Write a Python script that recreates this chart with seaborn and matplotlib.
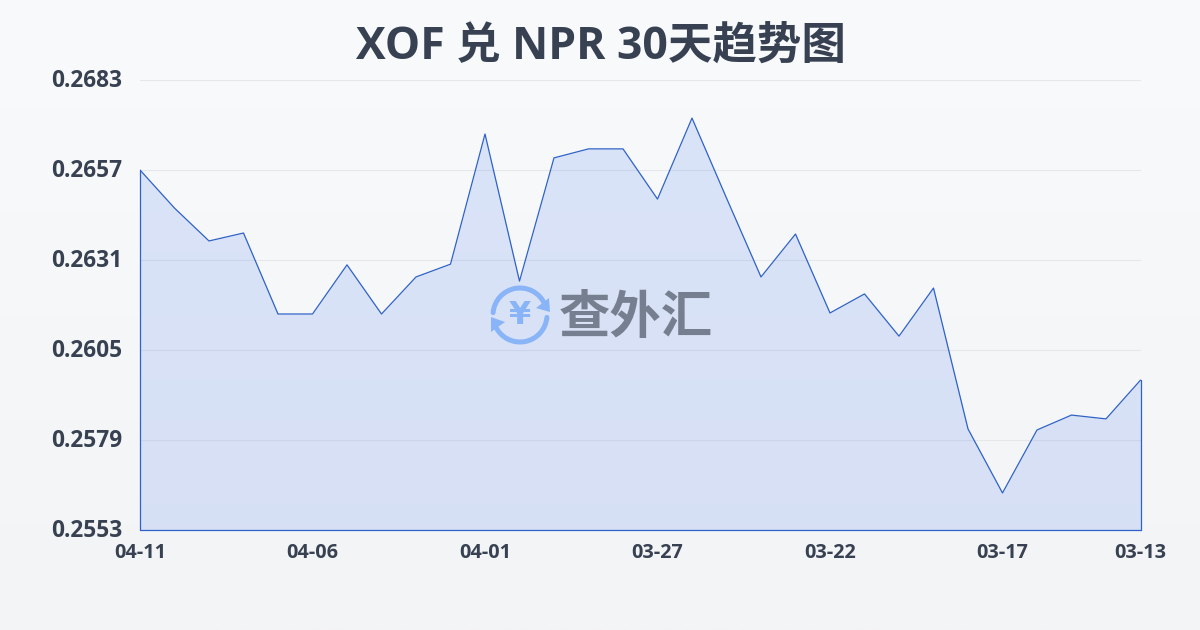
import numpy as np
import matplotlib
matplotlib.use('Agg')
import matplotlib.pyplot as plt
from matplotlib.patches import Arc, Polygon
from matplotlib.transforms import ScaledTranslation
import seaborn as sns

dates = ['04-11', '04-10', '04-09', '04-08', '04-07', '04-06', '04-05', '04-04', '04-03', '04-02',
         '04-01', '03-31', '03-30', '03-29', '03-28', '03-27', '03-26', '03-25', '03-24', '03-23',
         '03-22', '03-21', '03-20', '03-19', '03-18', '03-17', '03-16', '03-15', '03-14', '03-13']
rates = [0.26570, 0.26460, 0.26365, 0.26388, 0.26154, 0.26154, 0.26296, 0.26154, 0.26261, 0.26298,
         0.26674, 0.26249, 0.26605, 0.26631, 0.26631, 0.26486, 0.26720, 0.26489, 0.26261, 0.26385,
         0.26157, 0.26212, 0.26090, 0.26229, 0.25822, 0.25637, 0.25819, 0.25862, 0.25851, 0.25963]
y_ticks = [0.2553, 0.2579, 0.2605, 0.2631, 0.2657, 0.2683]
x_tick_idx = [0, 5, 10, 15, 20, 25, 29]
title = 'XOF 兑 NPR 30天趋势图'

FONT = ['Open Sans', 'Noto Sans CJK SC', 'DejaVu Sans']
TEXT = '#374151'
LINE = '#2f62c8'
LOGO = '#8ab4f8'

sns.set_theme(style='white')
plt.rcParams['font.family'] = FONT

fig = plt.figure(figsize=(12, 6.3), dpi=100)

# page background
bg = fig.add_axes([0, 0, 1, 1], zorder=-1)
bg.imshow(np.linspace(0, 1, 256).reshape(-1, 1),
          cmap=matplotlib.colors.LinearSegmentedColormap.from_list('bg', ['#f8fafc', '#f3f4f6']),
          aspect='auto')
bg.axis('off')

ax = fig.add_axes([140 / 1200, 1 - 530 / 630, 1000.5 / 1200, 450 / 630])
ax.patch.set_alpha(0)
x = np.arange(len(rates))
sns.lineplot(x=x, y=rates, ax=ax, color=LINE, lw=0.9, zorder=3)
ax.fill_between(x, rates, y_ticks[0], facecolor='#2a64e6', alpha=0.14, lw=0, zorder=2)
for xs, ys in [([0, 0], [y_ticks[0], rates[0]]),
               ([x[-1], x[-1]], [y_ticks[0], rates[-1]]),
               ([0, x[-1]], [y_ticks[0], y_ticks[0]])]:
    ax.plot(xs, ys, color=LINE, lw=0.9, zorder=3, clip_on=False)

ax.set_xlim(0, len(rates) - 1)
ax.set_ylim(y_ticks[0], y_ticks[-1])
ax.set_xticks(x_tick_idx, [dates[i] for i in x_tick_idx])
ax.set_yticks(y_ticks, [f'{v:.4f}' for v in y_ticks])
ax.grid(axis='y', color='#e5e7eb', lw=0.8, zorder=1)
ax.set_axisbelow(True)
sns.despine(ax=ax, left=True, bottom=True, top=True, right=True)
ax.tick_params(axis='x', length=7, width=0.8, color='#e5e7eb', pad=2, labelsize=14.3, labelcolor=TEXT)
ax.tick_params(axis='y', length=0, pad=13, labelsize=16.3, labelcolor=TEXT)
for lab in ax.get_xticklabels():
    lab.set_fontweight('bold')
for lab in ax.get_yticklabels():
    lab.set_fontweight('bold')
    lab.set_transform(lab.get_transform() + ScaledTranslation(0, 2 / 100, fig.dpi_scale_trans))

# title and watermark, in pixel coordinates
top = fig.add_axes([0, 0, 1, 1], zorder=5)
top.set_xlim(0, 1200)
top.set_ylim(630, 0)
top.axis('off')
top.text(601, 47, title, ha='center', va='center', fontsize=32, fontweight='bold', color=TEXT)

cx, cy = 520, 315
top.add_patch(Arc((cx, cy), 54, 54, theta1=185, theta2=335, color=LOGO, lw=3.6, capstyle='round'))
top.add_patch(Arc((cx, cy), 54, 54, theta1=5, theta2=155, color=LOGO, lw=3.6, capstyle='round'))
top.add_patch(Polygon([[549, 298], [550, 312], [536, 308]], color=LOGO, lw=0))
top.add_patch(Polygon([[491, 317], [505, 322], [491, 332]], color=LOGO, lw=0))
top.text(cx, cy, '¥', ha='center', va='center', fontsize=23, fontweight='bold', color=LOGO,
         family=['DejaVu Sans'])
top.text(636, 318, '查外汇', ha='center', va='center', fontsize=37, fontweight='bold',
         color='#767f8f', family=['Noto Sans CJK SC'])

fig.savefig('out.png', dpi=100)
